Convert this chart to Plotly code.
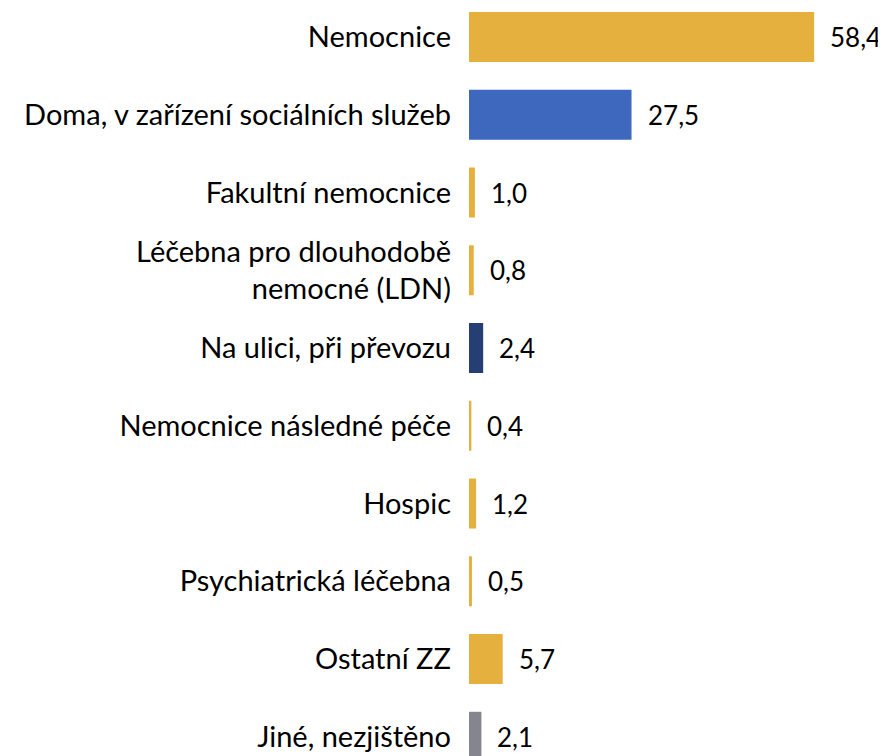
import plotly.graph_objects as go

categories = [
    "Nemocnice",
    "Doma, v zařízení sociálních služeb",
    "Fakultní nemocnice",
    "Léčebna pro dlouhodobě<br>nemocné (LDN)",
    "Na ulici, při převozu",
    "Nemocnice následné péče",
    "Hospic",
    "Psychiatrická léčebna",
    "Ostatní ZZ",
    "Jiné, nezjištěno",
]
values = [58.4, 27.5, 1.0, 0.8, 2.4, 0.4, 1.2, 0.5, 5.7, 2.1]
colors = ["#E6B03E", "#3D68BE", "#E6B03E", "#E6B03E", "#253F74",
          "#E6B03E", "#E6B03E", "#E6B03E", "#E6B03E", "#85858F"]

FONT = "Lato"
FS = 29
FS_VAL = 26

fig = go.Figure(go.Bar(
    x=values, y=categories, orientation="h",
    marker=dict(color=colors, line=dict(width=0)),
    hoverinfo="skip",
))

for v, c in zip(values, categories):
    fig.add_annotation(
        x=v, y=c, xref="x", yref="y",
        text=f"{v:.1f}".replace(".", ","),
        showarrow=False, xanchor="left", yanchor="middle", xshift=14,
        font=dict(family=FONT, size=FS_VAL, color="#000000"),
    )

fig.update_layout(
    width=878, height=748,
    margin=dict(l=461, r=0, t=0, b=0),
    paper_bgcolor="white", plot_bgcolor="white",
    bargap=0.357,
    showlegend=False,
    font=dict(family=FONT, size=FS, color="#000000"),
)
fig.update_xaxes(range=[0, 70.56], visible=False, showgrid=False, zeroline=False)
fig.update_yaxes(
    type="category", categoryorder="array", categoryarray=categories,
    range=[9.247, -0.373], showgrid=False, zeroline=False, showline=False,
    ticks="", ticklabelstandoff=17,
    tickfont=dict(family=FONT, size=FS, color="#000000"),
)

fig.write_html("out.html")
